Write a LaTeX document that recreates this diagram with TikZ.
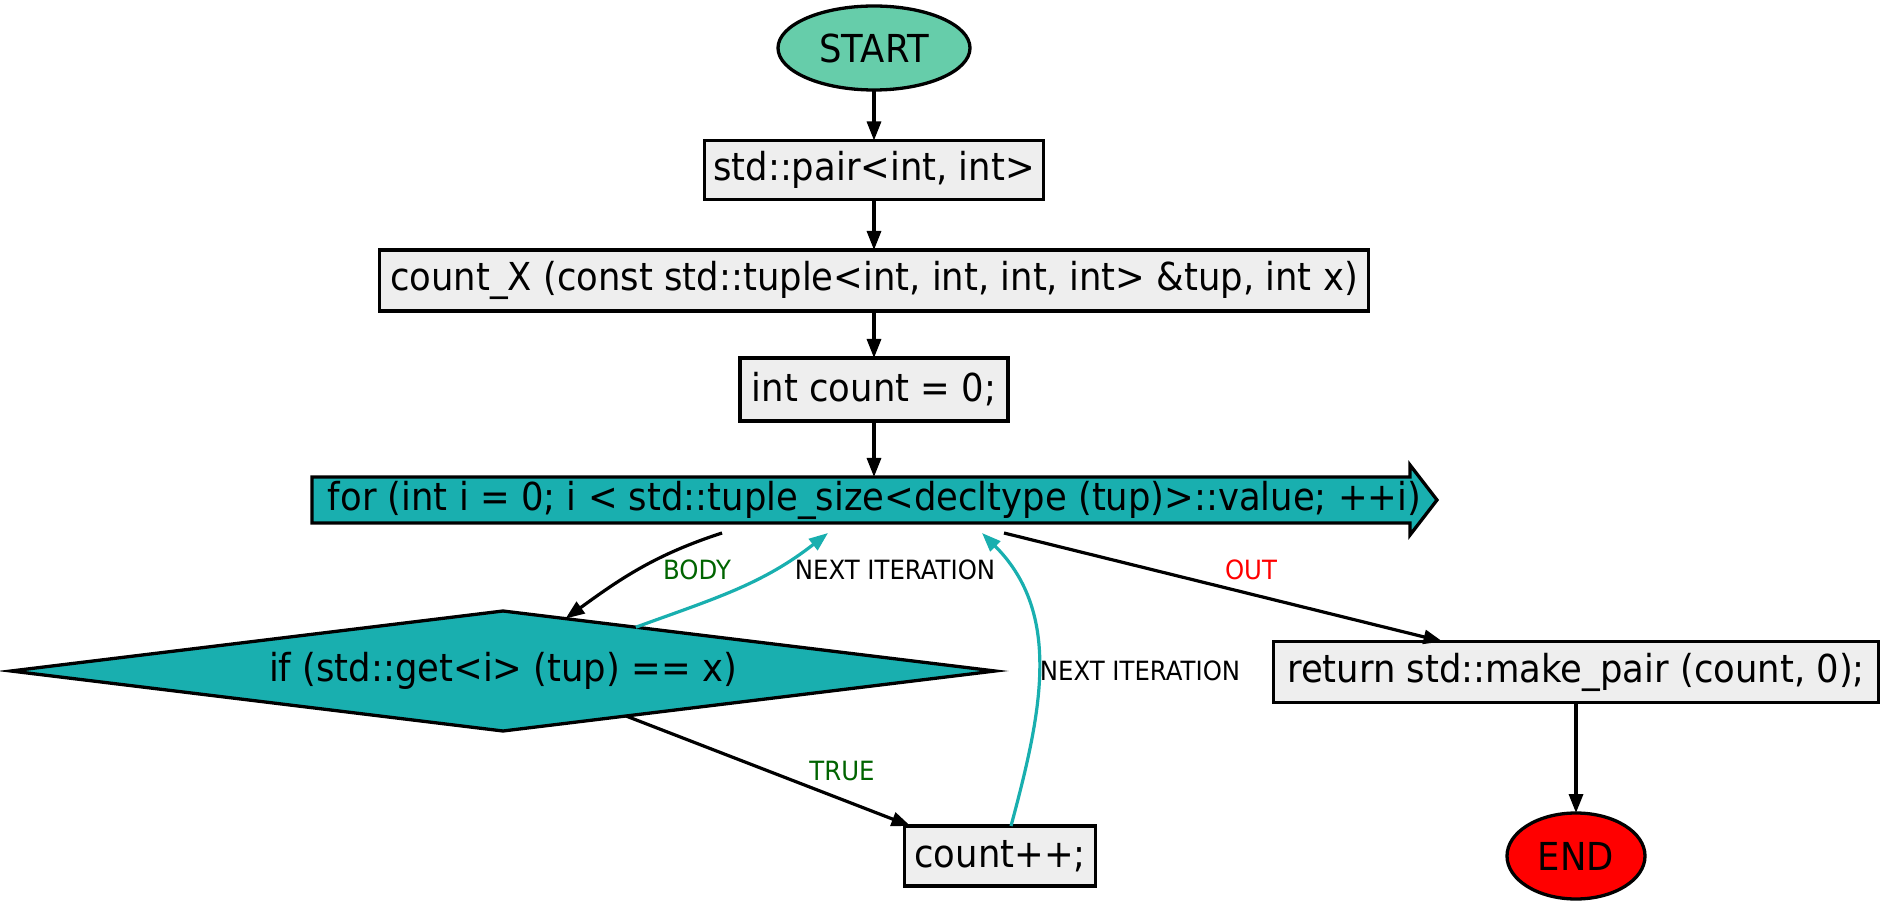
\documentclass[tikz,border=0pt]{standalone}
\usepackage{fontspec}
\setmainfont{DejaVu Sans}[FakeStretch=0.92]
\usetikzlibrary{arrows.meta,shapes.geometric,calc,backgrounds}
\definecolor{startgreen}{HTML}{66CDAA}
\definecolor{loopteal}{HTML}{19AFAF}
\definecolor{boxgray}{HTML}{EEEEEE}
\definecolor{labelgreen}{HTML}{006400}

\begin{document}
\begin{tikzpicture}[x=1pt,y=1pt,
  every node/.style={inner sep=0pt, outer sep=0pt},
  base/.style={line width=3.3pt, font=\fontsize{38.5}{44}\selectfont},
  terminal/.style={base, ellipse, draw},
  stmt/.style={base, rectangle, draw, fill=boxgray, minimum height=60pt},
  flow/.style={line width=3.2pt, -{Triangle[length=19pt,width=14pt]}},
  back/.style={flow, draw=loopteal},
  elabel/.style={font=\fontsize{26.5}{30}\selectfont}
]
\useasboundingbox (0,0) rectangle (1886,906);

% main column
\node[terminal, fill=startgreen, minimum width=192pt, minimum height=84pt] (start) at (874,858) {START};
\node[stmt, minimum width=339pt, minimum height=59pt] (pair) at (874,736) {std::pair<int, int>};
\node[stmt, minimum width=989pt, minimum height=61pt] (sig) at (874,625.5) {count\_X (const std::tuple<int, int, int, int> \&tup, int x)};
\node[stmt, minimum width=268pt, minimum height=63pt] (init) at (874,516.5) {int count = 0;};

% loop header (banner with arrow head)
\node[base, minimum width=1125pt, minimum height=46pt] (loop) at (874.5,406) {for (int i = 0; i < std::tuple\_size<decltype (tup)>::value; ++i)};
\begin{scope}[on background layer]
  \draw[line width=3.3pt, fill=loopteal, line join=miter]
    (loop.north west) -- ($(loop.north east)+(-27,0)$) -- ($(loop.north east)+(-27,12)$)
    -- (loop.east) -- ($(loop.south east)+(-27,-12)$) -- ($(loop.south east)+(-27,0)$)
    -- (loop.south west) -- cycle;
\end{scope}

% condition
\node[base, diamond, draw, fill=loopteal, aspect=8, minimum width=984pt, minimum height=120pt] (cond) at (503,235) {if (std::get<i> (tup) == x)};

\node[stmt, minimum width=191pt] (inc) at (1000,50) {count++;};
\node[stmt, minimum width=605pt, minimum height=61pt] (ret) at (1576,234) {return std::make\_pair (count, 0);};
\node[terminal, fill=red, minimum width=138pt, minimum height=86pt] (end) at (1576,50) {END};

% connectors
\draw[flow] (start) -- (pair);
\draw[flow] (pair) -- (sig);
\draw[flow] (sig) -- (init);
\draw[flow] (init) -- (loop.north -| init);

\draw[flow] ($(loop.south west)+(410,-10)$) to[out=198,in=36] ($(cond.north)!0.127!(cond.east)$);
\draw[back] ($(cond.north)!0.27!(cond.east)$) to[out=20,in=218] ($(loop.south west)+(516,-10)$);
\draw[flow] ($(cond.south)!0.25!(cond.east)$) -- ($(inc.north west)+(6,0)$);
\draw[back] ($(inc.north)+(11,0)$) to[out=75,in=-45] ($(loop.south west)+(670,-10)$);
\draw[flow] ($(loop.south west)+(692,-10)$) -- ($(ret.north west)+(169,0)$);
\draw[flow] (ret) -- (end);

% connector labels
\node[elabel, text=labelgreen] (lbody) at (697,336) {BODY};
\node[elabel] (lnext1) at (895,336) {NEXT ITERATION};
\node[elabel, text=labelgreen] (ltrue) at (842,135) {TRUE};
\node[elabel] (lnext2) at (1140,235) {NEXT ITERATION};
\node[elabel, text=red] (lout) at (1251,336) {OUT};
\end{tikzpicture}
\end{document}
